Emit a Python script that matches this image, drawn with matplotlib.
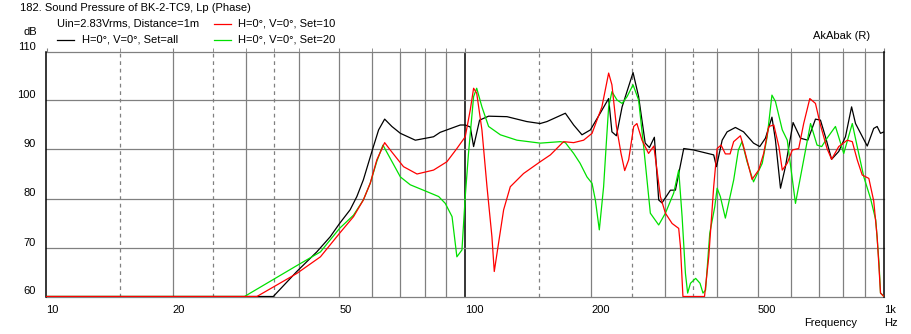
import matplotlib
matplotlib.use("Agg")
import matplotlib.pyplot as plt
from matplotlib.ticker import NullFormatter
import numpy as np

plt.rcParams['font.family'] = ['Liberation Sans', 'DejaVu Sans']
plt.rcParams['font.size'] = 8

# --- data (frequency in Hz, level in dB) ---
black_f = [10, 34.8, 39.6, 44.2, 47.6, 50.1, 53.1, 55.1, 57.1, 60,
           62.1, 64.2, 66.8, 70, 76, 84, 87.1, 97.3, 100, 102.8,
           104.7, 108.2, 113.7, 125.8, 140.3, 151, 156.7, 173.4, 181.5, 190,
           199, 210, 220, 224, 229.6, 236.9, 251.6, 259.4, 269, 275.3,
           282.9, 289.7, 295, 309, 317.6, 332.5, 351, 392, 398, 410.7,
           422, 441.7, 462, 488, 505, 521, 540, 550.5, 566, 581.6,
           606.6, 631.7, 657.7, 686, 705, 724.7, 749.6, 779.7, 809, 836.8,
           855, 912, 945, 963, 981, 1000]
black_db = [60, 60, 65.1, 69.1, 72.2, 74.9, 77.7, 80.4, 83.8, 89.9,
            94.0, 96.2, 94.7, 93.3, 91.9, 92.6, 93.5, 95.0, 95.0, 94.6,
            90.6, 96.0, 96.8, 96.7, 95.7, 95.3, 95.7, 97.4, 95.0, 93.0,
            94.0, 97.4, 100.4, 93.6, 92.8, 98.7, 105.7, 100.8, 91.3, 90.4,
            92.5, 79.7, 79.1, 81.7, 81.7, 90.2, 89.9, 88.9, 86.5, 91.9,
            93.6, 94.5, 93.6, 91.3, 90.6, 92.3, 96.6, 91.9, 82.1, 86.5,
            95.5, 92.3, 91.9, 96.2, 96.0, 92.6, 88.0, 89.6, 92.6, 98.7,
            95.3, 90.7, 94.3, 94.7, 93.3, 93.6]

red_f = [10, 31.8, 39.6, 45.1, 50.1, 54.1, 57.1, 59.3, 61.5, 64.2,
         66.2, 71.2, 76.7, 84, 90.4, 95.5, 100, 102.8, 104.7, 106.5,
         109.6, 112.7, 115.8, 117.3, 120.1, 123.5, 128.1, 137.8, 151, 159.7,
         171.7, 181.5, 191.7, 200.8, 212, 220, 224, 229.6, 235.5, 240.3,
         245.6, 252.5, 257, 264.3, 274, 282, 287, 292.4, 300.6, 311.9,
         323.4, 326.5, 331, 372.7, 381.5, 392, 399.5, 408.3, 418, 429,
         437.5, 454, 462, 484, 502, 516, 530.6, 545.6, 561, 571.6,
         587.5, 604, 625.6, 643, 665, 686, 705, 731, 749.6, 779.7,
         817, 840, 863, 887, 920, 945, 963, 981, 1000]
red_db = [60, 60, 64.7, 68.1, 72.9, 76.3, 79.7, 83.1, 87.9, 91.4,
          89.9, 86.5, 85.0, 85.8, 87.5, 90.2, 92.6, 98.1, 102.5, 101.5,
          94.0, 82.4, 72.2, 65.1, 70.9, 77.7, 82.4, 85.1, 87.5, 88.9,
          91.6, 91.4, 91.9, 93.3, 98.7, 105.6, 103.2, 94.7, 89.2, 85.7,
          87.9, 94.7, 95.3, 91.9, 89.2, 90.7, 85.8, 80.4, 77.0, 74.9,
          73.9, 70.2, 60, 60, 68.1, 82.4, 90.2, 90.9, 89.1, 89.1,
          91.6, 92.8, 90.6, 83.9, 85.8, 89.2, 94.7, 95.0, 90.6, 85.8,
          87.2, 89.9, 90.2, 95.3, 100.4, 99.4, 95.0, 90.2, 88.0, 90.6,
          91.9, 91.6, 87.9, 84.8, 84.1, 79.5, 72.2, 60.7, 60]

green_f = [10, 29.7, 39.6, 45.1, 50.1, 54.1, 57.1, 59.3, 61.5, 63.6,
           70, 73.9, 81, 86.4, 89.6, 93, 95.5, 98.2, 100, 101.8,
           104.7, 106.5, 109.6, 113.7, 121.3, 132.9, 151, 168.7, 173.4, 181.5,
           188, 195.3, 200.8, 204.5, 209, 214, 217.2, 220, 224, 230.4,
           236.9, 243.5, 251.6, 259.4, 266.7, 276.7, 289.7, 300.6, 314.6, 323.4,
           329.5, 335.6, 339.7, 345, 355, 363.6, 369.6, 374.9, 383.6, 394.3,
           399.5, 406.6, 418, 437.6, 449, 458, 471, 488, 512, 526,
           540, 550.5, 571.6, 587.5, 614.6, 667.7, 692, 710, 731, 765.7,
           801.5, 840, 863, 895, 928.6, 955.7, 973, 981, 1000]
green_db = [60, 60, 66.3, 69.1, 73.9, 76.6, 79.7, 83.1, 87.6, 90.9,
            84.4, 82.8, 81.4, 80.4, 79.0, 76.3, 68.1, 69.5, 80.4, 89.2,
            100.8, 102.5, 98.7, 94.7, 93.0, 91.9, 91.3, 91.6, 91.4, 89.2,
            87.2, 84.4, 83.1, 79.7, 73.6, 82.4, 91.3, 98.7, 101.8, 100.1,
            99.4, 100.8, 103.2, 100.1, 90.6, 77.0, 74.6, 77.0, 81.1, 85.8,
            76.3, 64.7, 60.7, 62.7, 63.7, 62.7, 60.7, 61.3, 72.9, 78.3,
            82.1, 80.4, 76.0, 83.8, 89.9, 91.6, 87.5, 83.4, 87.2, 92.6,
            101.1, 99.8, 94.0, 91.9, 79.0, 95.3, 90.9, 90.6, 92.3, 94.7,
            89.2, 95.3, 90.6, 84.4, 80.0, 75.6, 66.8, 60.7, 60]

x_ticks = [10, 20, 50, 100, 200, 500, 1000]
x_labels = ['10', '20', '50', '100', '200', '500', '1k']
y_ticks = [60, 70, 80, 90, 100, 110]

W, H = 912, 334
fig = plt.figure(figsize=(W / 100, H / 100), dpi=100)
ax = fig.add_axes([46.5 / W, 1 - 296.5 / H, (884 - 46.5) / W, (296.5 - 51.5) / H])

def px(x, y):
    return x / W, 1 - y / H

# grid lines
solid = [20, 30, 40, 50, 60, 70, 80, 90, 200, 300, 400, 500, 600, 700, 800, 900]
dashed = [15, 25, 35, 150, 250, 350]
for f in solid:
    ax.axvline(f, color='#808080', lw=0.9, zorder=1)
for f in dashed:
    ax.axvline(f, color='#808080', lw=0.9, ls=(0, (3, 3)), zorder=1)
ax.axvline(100, color='black', lw=1.1, zorder=1)
for v in y_ticks:
    ax.axhline(v, color='#808080', lw=0.9, zorder=1, clip_on=False)

# curves
ax.plot(black_f, black_db, color='black', lw=0.9, zorder=3)
ax.plot(green_f, green_db, color='#00e000', lw=0.9, zorder=4)
ax.plot(red_f, red_db, color='#ff0000', lw=0.9, zorder=5)

ax.set_xscale('log')
ax.set_xlim(10, 1000)
ax.set_ylim(60, 110)

for s in ['top', 'bottom']:
    ax.spines[s].set_visible(False)
for s in ['left', 'right']:
    ax.spines[s].set_color('black')
    ax.spines[s].set_linewidth(1.1)

ax.set_xticks(x_ticks)
ax.set_xticklabels(x_labels)
ax.set_xticks(sorted(solid + dashed), minor=True)
ax.xaxis.set_minor_formatter(NullFormatter())
ax.tick_params(axis='x', which='both', top=True, bottom=False, length=3,
               color='#808080', pad=3, labelsize=8)
for lab in ax.get_xticklabels():
    lab.set_ha('left')
ax.set_yticks(y_ticks)
ax.tick_params(axis='y', length=0, pad=8, labelsize=8)
for lab in ax.get_yticklabels():
    lab.set_va('bottom')

# header text
fig.text(*px(20, 8), '182. Sound Pressure of BK-2-TC9, Lp (Phase)', va='center', ha='left', fontsize=8)
fig.text(*px(57, 24), 'Uin=2.83Vrms, Distance=1m', va='center', ha='left', fontsize=8)
fig.add_artist(plt.Line2D([57 / W, 74 / W], [1 - 40 / H] * 2, color='black', lw=0.9))
fig.text(*px(82, 40), 'H=0°, V=0°, Set=all', va='center', ha='left', fontsize=8)
fig.add_artist(plt.Line2D([214 / W, 231 / W], [1 - 24 / H] * 2, color='#ff0000', lw=0.9))
fig.text(*px(238, 24), 'H=0°, V=0°, Set=10', va='center', ha='left', fontsize=8)
fig.add_artist(plt.Line2D([214 / W, 231 / W], [1 - 40 / H] * 2, color='#00e000', lw=0.9))
fig.text(*px(238, 40), 'H=0°, V=0°, Set=20', va='center', ha='left', fontsize=8)
fig.text(*px(37, 32), 'dB', va='center', ha='right', fontsize=8)
fig.text(*px(870, 36), 'AkAbak (R)', va='center', ha='right', fontsize=8)
fig.text(*px(857, 323), 'Frequency', va='center', ha='right', fontsize=8)
fig.text(*px(884, 323), 'Hz', va='center', ha='left', fontsize=8)

fig.savefig('out.png', dpi=100)
